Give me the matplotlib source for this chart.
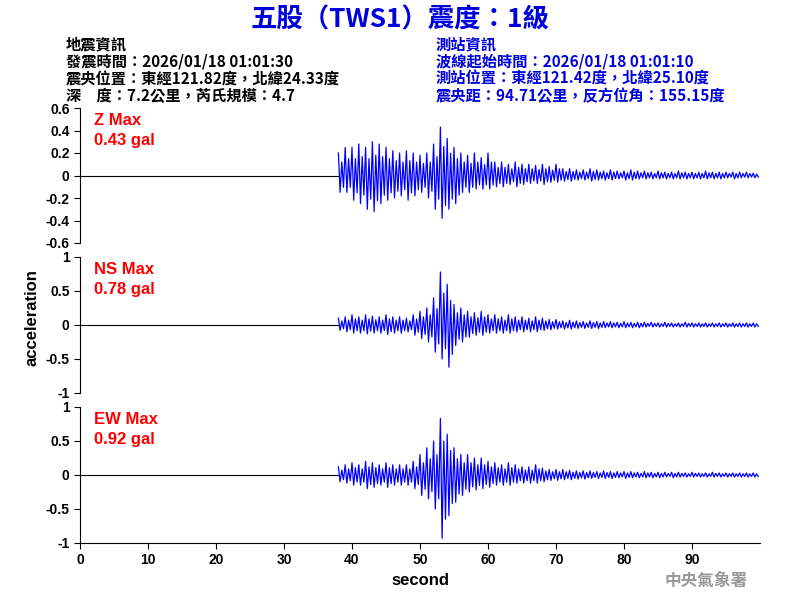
import matplotlib
matplotlib.use("Agg")
import matplotlib.pyplot as plt
import numpy as np

FONT = ['Noto Sans CJK TC', 'DejaVu Sans']
plt.rcParams['font.family'] = ['Liberation Sans', 'DejaVu Sans']

# per-second envelope, t = 38 .. 99 s (positive peak, negative peak)
t_start = 38
z_pos = [0.20,0.25,0.25,0.28,0.25,0.30,0.28,0.25,0.22,0.20,0.22,0.20,0.18,0.20,0.28,0.43,0.33,0.25,0.20,0.18,
         0.20,0.16,0.20,0.12,0.12,0.10,0.12,0.10,0.10,0.09,0.10,0.08,0.10,0.06,0.06,0.05,0.05,0.06,0.05,0.04,
         0.05,0.04,0.04,0.05,0.04,0.04,0.03,0.04,0.03,0.03,0.04,0.03,0.03,0.03,0.04,0.03,0.03,0.03,0.03,0.03,0.03,0.02]
z_neg = [-0.15,-0.15,-0.22,-0.25,-0.30,-0.32,-0.25,-0.22,-0.20,-0.18,-0.22,-0.18,-0.15,-0.20,-0.30,-0.38,-0.30,-0.25,-0.15,-0.15,
         -0.12,-0.12,-0.12,-0.10,-0.10,-0.08,-0.10,-0.08,-0.07,-0.07,-0.08,-0.06,-0.06,-0.05,-0.05,-0.04,-0.04,-0.05,-0.04,-0.04,
         -0.04,-0.03,-0.04,-0.04,-0.03,-0.03,-0.03,-0.03,-0.03,-0.03,-0.03,-0.03,-0.03,-0.03,-0.03,-0.03,-0.03,-0.02,-0.03,-0.02,-0.02,-0.02]
ns_pos = [0.10,0.12,0.15,0.12,0.15,0.13,0.12,0.15,0.12,0.12,0.10,0.15,0.20,0.25,0.40,0.78,0.60,0.30,0.25,0.20,
          0.18,0.20,0.15,0.15,0.12,0.15,0.12,0.12,0.10,0.12,0.10,0.08,0.08,0.06,0.07,0.06,0.05,0.06,0.05,0.05,
          0.05,0.04,0.05,0.04,0.04,0.04,0.04,0.03,0.04,0.03,0.03,0.04,0.03,0.03,0.03,0.03,0.03,0.03,0.03,0.03,0.03,0.03]
ns_neg = [-0.08,-0.10,-0.12,-0.12,-0.13,-0.12,-0.12,-0.14,-0.12,-0.12,-0.10,-0.15,-0.20,-0.25,-0.40,-0.50,-0.62,-0.30,-0.25,-0.18,
          -0.15,-0.15,-0.12,-0.12,-0.12,-0.12,-0.10,-0.10,-0.10,-0.10,-0.08,-0.07,-0.06,-0.06,-0.06,-0.05,-0.05,-0.05,-0.05,-0.04,
          -0.04,-0.04,-0.04,-0.04,-0.04,-0.03,-0.03,-0.03,-0.03,-0.03,-0.03,-0.03,-0.03,-0.03,-0.03,-0.03,-0.03,-0.03,-0.03,-0.03,-0.03,-0.03]
ew_pos = [0.12,0.15,0.18,0.15,0.20,0.18,0.15,0.18,0.15,0.15,0.15,0.20,0.30,0.40,0.50,0.83,0.60,0.40,0.30,0.30,
          0.25,0.25,0.20,0.18,0.15,0.18,0.15,0.12,0.12,0.15,0.10,0.08,0.08,0.08,0.07,0.06,0.06,0.06,0.05,0.06,
          0.05,0.05,0.05,0.05,0.04,0.05,0.04,0.04,0.04,0.04,0.04,0.03,0.04,0.03,0.03,0.04,0.03,0.03,0.03,0.03,0.03,0.03]
ew_neg = [-0.10,-0.12,-0.15,-0.15,-0.20,-0.18,-0.15,-0.18,-0.15,-0.15,-0.15,-0.20,-0.30,-0.35,-0.50,-0.93,-0.60,-0.40,-0.30,-0.25,
          -0.22,-0.20,-0.18,-0.15,-0.15,-0.15,-0.12,-0.12,-0.12,-0.12,-0.10,-0.08,-0.08,-0.07,-0.07,-0.06,-0.06,-0.05,-0.05,-0.05,
          -0.05,-0.04,-0.05,-0.04,-0.04,-0.04,-0.04,-0.04,-0.03,-0.04,-0.03,-0.03,-0.03,-0.03,-0.03,-0.03,-0.03,-0.03,-0.03,-0.03,-0.03,-0.03]

labels = ["Z Max\n0.43 gal", "NS Max\n0.78 gal", "EW Max\n0.92 gal"]
ylims = [(-0.6, 0.6), (-1, 1), (-1, 1)]
yticks = [[-0.6,-0.4,-0.2,0,0.2,0.4,0.6], [-1,-0.5,0,0.5,1], [-1,-0.5,0,0.5,1]]
yticklabels = [["-0.6","-0.4","-0.2","0","0.2","0.4","0.6"], ["-1","-0.5","0","0.5","1"], ["-1","-0.5","0","0.5","1"]]
series = [(z_pos, z_neg), (ns_pos, ns_neg), (ew_pos, ew_neg)]

fig = plt.figure(figsize=(8, 6), dpi=100)
rects = [(0.1, 0.595, 0.85, 0.225), (0.1, 0.345, 0.85, 0.2267), (0.1, 0.095, 0.85, 0.2267)]
for k, (r, (pos, neg)) in enumerate(zip(rects, series)):
    ax = fig.add_axes(r)
    n = len(pos)
    tt, yy = [], []
    for i in range(n):
        tt += [t_start + i, t_start + i + 0.25, t_start + i + 0.5, t_start + i + 0.75]
        yy += [pos[i], neg[i], pos[i] * 0.6, neg[i] * 0.7]
    ax.plot([0, t_start], [0, 0], color='black', lw=0.8)
    ax.plot(tt, yy, color='#0000ff', lw=0.9)
    ax.set_xlim(0, 100)
    ax.set_ylim(*ylims[k])
    ax.set_yticks(yticks[k])
    ax.set_yticklabels(yticklabels[k], fontsize=10, fontweight='bold')
    for s in ['top', 'right']:
        ax.spines[s].set_visible(False)
    if k < 2:
        ax.spines['bottom'].set_visible(False)
        ax.set_xticks([])
    else:
        ax.set_xticks(range(0, 100, 10))
        ax.set_xticklabels([str(v) for v in range(0, 100, 10)], fontsize=10, fontweight='bold')
        ax.set_xlabel("second", fontsize=12, fontweight='bold')
    ax.tick_params(direction='out', length=4)
    ax.text(0.02, 0.96, labels[k], transform=ax.transAxes, color='red', fontsize=12,
            fontweight='bold', va='top', linespacing=1.4)

fig.text(0.04, 0.47, "acceleration", rotation=90, fontsize=12, fontweight='bold', ha='center', va='center')

fig.text(0.5, 0.967, "五股（TWS1）震度：1級", family=FONT, color='#0000dd', fontsize=19,
         fontweight='bold', ha='center', va='center')
left = ["地震資訊", "發震時間：2026/01/18 01:01:30", "震央位置：東經121.82度，北緯24.33度", "深　度：7.2公里，芮氏規模：4.7"]
right = ["測站資訊", "波線起始時間：2026/01/18 01:01:10", "測站位置：東經121.42度，北緯25.10度", "震央距：94.71公里，反方位角：155.15度"]
for i, (a, b) in enumerate(zip(left, right)):
    y = 1 - (44 + i * 17.5) / 600
    fig.text(0.082, y, a, family=FONT, fontsize=11, fontweight='bold', color='black', va='center')
    fig.text(0.545, y, b, family=FONT, fontsize=11, fontweight='bold', color='#0000dd', va='center')
fig.text(0.935, 0.032, "中央氣象署", family=FONT, fontsize=12, fontweight='bold', color='#999999', ha='right', va='center')

fig.savefig("out.png", dpi=100)
